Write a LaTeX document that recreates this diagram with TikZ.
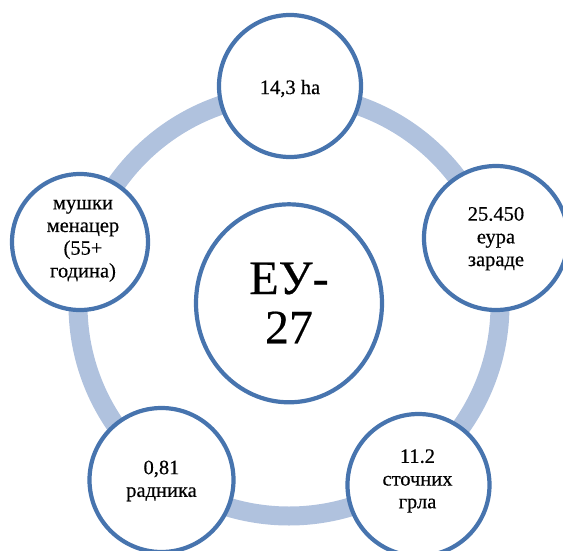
\documentclass[tikz,border=0pt]{standalone}
\usepackage{fontspec}
\setmainfont{Liberation Serif}[UprightFeatures={FakeBold=0.4}]
\usetikzlibrary{shapes.geometric}
\definecolor{ringblue}{RGB}{176,194,222}
\definecolor{edgeblue}{RGB}{71,116,174}
\tikzset{
  bubble/.style={circle, draw=edgeblue, line width=4.2pt, fill=white, inner sep=0pt},
  small/.style={align=center, inner sep=0pt, font=\fontsize{20.5}{22.7}\selectfont},
  big/.style={align=center, inner sep=0pt, font=\fontsize{48}{49.3}\selectfont}
}
\begin{document}
\begin{tikzpicture}[x=1pt,y=-1pt]
\useasboundingbox (0,0) rectangle (563,550);
% ring
\coordinate (rc) at (289,305);
\draw[ringblue, line width=19pt] (rc) circle[radius=211];
% centre
\node[ellipse, draw=edgeblue, line width=4.2pt, fill=white, minimum width=186pt, minimum height=198pt, inner sep=0pt] (ctr) at (289,303.3) {};
\node[big] (ctrt) at (289,308.8) {\strut ЕУ-\\\strut 27};
% outer circles
\node[bubble, minimum size=142pt] (top) at (290,86) {};
\node[bubble, minimum size=144pt] (right) at (496,238) {};
\node[bubble, minimum size=142pt] (br) at (418.5,485) {};
\node[bubble, minimum size=144pt] (bl) at (161.5,480) {};
\node[bubble, minimum size=136pt] (left) at (80,242) {};
% texts
\node[small] (topt) at (290,89.5) {\strut 14,3 ha};
\node[small] (rightt) at (496,238.8) {\strut 25.450\\\strut еура\\\strut зараде};
\node[small] (brt) at (417.5,481) {\strut 11.2\\\strut сточних\\\strut грла};
\node[small] (blt) at (161.5,481) {\strut 0,81\\\strut радника};
\node[small] (leftt) at (83,238.8) {\strut мушки\\\strut менацер\\\strut (55+\\\strut година)};
\end{tikzpicture}
\end{document}
